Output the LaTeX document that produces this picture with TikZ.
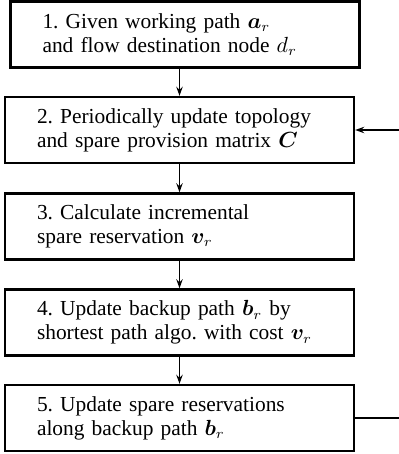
\documentclass[tikz,border=0pt]{standalone}
\usepackage{fontspec}
\setmainfont{Liberation Serif}
\usepackage{bm}
\usetikzlibrary{arrows.meta}
\frenchspacing

\begin{document}
\begin{tikzpicture}[x=0.5pt, y=-0.5pt,
  stepbox/.style={draw, line width=1.2pt, minimum width=174.5pt, minimum height=33pt,
    text width=142.5pt, inner xsep=16pt, align=left, font=\fontsize{10.7}{12}\selectfont},
  flow/.style={line width=0.8pt, -{Stealth[length=4.5pt, width=3.2pt]}}]
\useasboundingbox (0,0) rectangle (399,454);

\node[stepbox] (step_1) at (185,34.5) {1. Given working path $\bm{a}_r$\\and flow destination node $d_r$};
\node[stepbox] (step_2) at (179.5,130) {2. Periodically update topology\\and spare provision matrix $\bm{C}$};
\node[stepbox] (step_3) at (179.5,226.5) {3. Calculate incremental\\spare reservation $\bm{v}_r$};
\node[stepbox] (step_4) at (179.5,322.5) {4. Update backup path $\bm{b}_r$ by\\shortest path algo. with cost $\bm{v}_r$};
\node[stepbox] (step_5) at (179.5,418) {5. Update spare reservations\\along backup path $\bm{b}_r$};

\coordinate (loop_in) at (399,130);
\coordinate (loop_out) at (399,418);

\draw[flow] (step_2 |- step_1.south) -- (step_2.north);
\draw[flow] (step_2) -- (step_3);
\draw[flow] (step_3) -- (step_4);
\draw[flow] (step_4) -- (step_5);
\draw[flow] (loop_in) -- (step_2.east);
\draw[line width=0.8pt] (step_5.east) -- (loop_out);

\end{tikzpicture}
\end{document}
